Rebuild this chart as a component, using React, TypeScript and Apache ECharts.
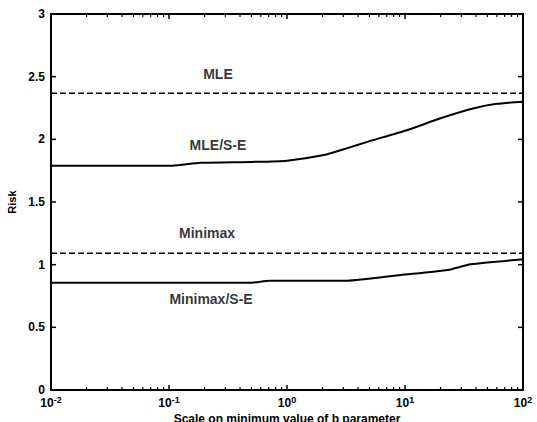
import React, { useEffect, useRef } from "react";
import * as echarts from "echarts";

// Dashed reference levels
const mleLevel = 2.368;
const minimaxLevel = 1.091;
const xRange = [0.01, 100];
const yRange = [0, 3];

// MLE/S-E solid curve
const mleSeX = [0.01, 0.106, 0.184, 0.5, 1, 2.05, 3.24, 4.8, 10.5, 20, 38.5, 60, 100];
const mleSeY = [1.79, 1.79, 1.813, 1.82, 1.83, 1.875, 1.93, 1.98, 2.075, 2.168, 2.248, 2.283, 2.3];

// Minimax/S-E solid curve
const mmSeX = [0.01, 0.5, 0.71, 3.24, 9.2, 23, 36, 100];
const mmSeY = [0.856, 0.856, 0.872, 0.872, 0.918, 0.958, 1.003, 1.043];

// Annotations
const annoText = ["MLE", "MLE/S-E", "Minimax", "Minimax/S-E"];
const annoX = [0.26, 0.26, 0.21, 0.227];
const annoY = [2.522, 1.955, 1.253, 0.726];

// Ticks
const xMajor = [0.01, 0.1, 1, 10, 100];
const minorMult = [2, 3, 4, 5, 6, 7, 8, 9];
const decades = [0.01, 0.1, 1, 10];
const yTicks = [0, 0.5, 1, 1.5, 2, 2.5, 3];

const FONT = "Liberation Sans, Arial, Helvetica, sans-serif";

export default function App() {
  const ref = useRef<HTMLDivElement>(null);
  useEffect(() => {
    document.body.style.margin = "0";
    document.body.style.overflow = "hidden";
    const chart = echarts.init(ref.current!, null, { renderer: "svg" });
    const minorData: number[][] = [];
    decades.forEach((d) => minorMult.forEach((m) => minorData.push([d * m, 0])));
    const majorData = xMajor.map((v) => [v, 0]);
    const yTickData = yTicks.map((v) => [xRange[0], v]);
    const fill = { fill: "#000" };

    const xTickSeries = (data: number[][], len: number, w: number) => ({
      type: "custom",
      z: 10,
      clip: false,
      data,
      renderItem: (params: any, api: any) => {
        const x = api.value(0);
        const b = api.coord([x, yRange[0]]);
        const t = api.coord([x, yRange[1]]);
        return {
          type: "group",
          children: [
            { type: "rect", shape: { x: b[0] - w / 2, y: b[1] - len, width: w, height: len }, style: fill },
            { type: "rect", shape: { x: t[0] - w / 2, y: t[1], width: w, height: len }, style: fill },
          ],
        };
      },
    });

    chart.setOption({
      animation: false,
      backgroundColor: "#fff",
      textStyle: { fontFamily: FONT },
      grid: {
        left: 51,
        right: 14,
        top: 14,
        bottom: 32,
        outerBoundsMode: "none",
        containLabel: false,
      },
      xAxis: {
        type: "log",
        logBase: 10,
        min: xRange[0],
        max: xRange[1],
        splitNumber: 4,
        name: "Scale on minimum value of b parameter",
        nameLocation: "middle",
        nameGap: 15,
        nameTextStyle: { color: "#000", fontSize: 12, fontWeight: "bold", fontFamily: FONT },
        axisLine: { show: true, onZero: false, lineStyle: { color: "#000", width: 2 } },
        axisTick: { show: false },
        splitLine: { show: false },
        axisLabel: {
          color: "#000",
          margin: 5,
          formatter: (v: number) => {
            const e = Math.round(Math.log10(v));
            return "{b|10}{s|" + String(e) + "}";
          },
          rich: {
            b: { fontSize: 12, fontWeight: "bold", fontFamily: FONT, color: "#000" },
            s: { fontSize: 9, fontWeight: "bold", fontFamily: FONT, color: "#000", padding: [0, 0, 6, 0] },
          },
        },
      },
      yAxis: {
        type: "value",
        min: yRange[0],
        max: yRange[1],
        interval: 0.5,
        name: "Risk",
        nameLocation: "middle",
        nameGap: 23,
        nameTextStyle: { color: "#000", fontSize: 11, fontWeight: "bold", fontFamily: FONT },
        axisLine: { show: true, onZero: false, lineStyle: { color: "#000", width: 2 } },
        axisTick: { show: false },
        splitLine: { show: false },
        axisLabel: {
          color: "#000",
          fontSize: 12,
          fontWeight: "bold",
          fontFamily: FONT,
          margin: 6,
          formatter: (v: number) => (yTicks.includes(v) ? String(v) : ""),
        },
      },
      series: [
        {
          type: "line",
          data: xRange.map((x) => [x, mleLevel]),
          symbol: "none",
          lineStyle: { color: "#000", width: 1.6, type: [6, 3] },
        },
        {
          type: "line",
          data: xRange.map((x) => [x, minimaxLevel]),
          symbol: "none",
          lineStyle: { color: "#000", width: 1.6, type: [6, 3] },
        },
        {
          type: "line",
          data: mleSeX.map((x, i) => [x, mleSeY[i]]),
          symbol: "none",
          smooth: 0.2,
          lineStyle: { color: "#000", width: 2 },
        },
        {
          type: "line",
          data: mmSeX.map((x, i) => [x, mmSeY[i]]),
          symbol: "none",
          smooth: 0.2,
          lineStyle: { color: "#000", width: 2 },
        },
        {
          type: "scatter",
          symbolSize: 0,
          data: annoX.map((x, i) => ({ value: [x, annoY[i]], name: annoText[i] })),
          label: {
            show: true,
            position: "inside",
            formatter: (p: any) => p.name,
            color: "#000",
            fontSize: 14,
            fontWeight: "bold",
            fontFamily: FONT,
          },
        },
        xTickSeries(majorData, 5, 1.5),
        xTickSeries(minorData, 3, 1.2),
        {
          type: "custom",
          z: 10,
          clip: false,
          data: yTickData,
          renderItem: (params: any, api: any) => {
            const y = api.coord([xRange[0], api.value(1)])[1];
            const l = api.coord([xRange[0], yRange[0]])[0];
            const r = api.coord([xRange[1], yRange[0]])[0];
            return {
              type: "group",
              children: [
                { type: "rect", shape: { x: l, y: y - 0.75, width: 5, height: 1.5 }, style: fill },
                { type: "rect", shape: { x: r - 5, y: y - 0.75, width: 5, height: 1.5 }, style: fill },
              ],
            };
          },
        },
        {
          type: "custom",
          z: 11,
          clip: false,
          data: [[xRange[0], yRange[0]]],
          renderItem: (params: any, api: any) => {
            const bl = api.coord([xRange[0], yRange[0]]);
            const tr = api.coord([xRange[1], yRange[1]]);
            const L = bl[0], B = bl[1], R = tr[0], T = tr[1];
            const w = 2;
            return {
              type: "group",
              children: [
                { type: "rect", shape: { x: L - w / 2, y: B - w / 2, width: R - L + w, height: w }, style: fill },
                { type: "rect", shape: { x: L - w / 2, y: T - w / 2, width: R - L + w, height: w }, style: fill },
                { type: "rect", shape: { x: L - w / 2, y: T - w / 2, width: w, height: B - T + w }, style: fill },
                { type: "rect", shape: { x: R - w / 2, y: T - w / 2, width: w, height: B - T + w }, style: fill },
              ],
            };
          },
        },
      ],
    });
    return () => chart.dispose();
  }, []);
  return <div ref={ref} style={{ width: 537, height: 422 }} />;
}
